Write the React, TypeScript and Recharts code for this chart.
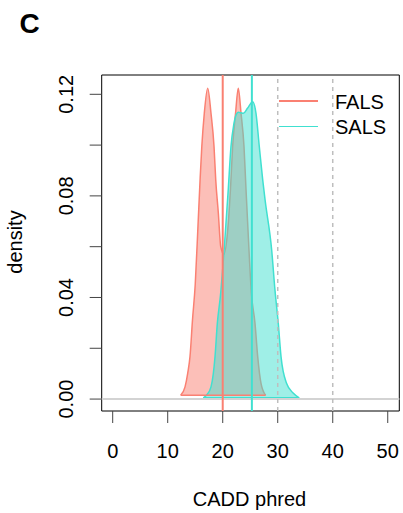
import {
  ComposedChart,
  Area,
  XAxis,
  YAxis,
  ReferenceLine,
  ReferenceArea,
  Label,
} from 'recharts';

// density estimates (CADD phred vs density)
const falsX = [
  12.36, 13.15, 13.64, 14.05, 14.5, 15.0, 15.5, 15.9, 16.2, 16.65, 17.27, 17.87, 18.42,
  18.73, 19.2, 19.64, 20.2, 20.8, 21.4, 21.8, 22.33, 22.83, 23.33, 23.87, 24.24, 24.7,
  25.2, 25.87, 26.36, 26.96, 27.8,
];
const falsDensity = [
  0.0015, 0.0048, 0.0102, 0.0167, 0.031, 0.045, 0.068, 0.087, 0.0995, 0.1125, 0.1224,
  0.1125, 0.0994, 0.0863, 0.0733, 0.06, 0.057, 0.064, 0.0823, 0.0994, 0.1125, 0.1224,
  0.1125, 0.0994, 0.0823, 0.062, 0.042, 0.0298, 0.0167, 0.0062, 0.0015,
];

const salsX = [
  16.47, 17.09, 17.87, 18.29, 18.6, 19.02, 19.6, 20.3, 21.0, 21.5, 22.0, 22.5, 22.84,
  23.3, 23.75, 24.5, 25.45, 26.05, 26.65, 27.27, 27.7, 28.9, 29.5, 30.1, 30.6, 31.6,
  32.8, 33.9,
];
const salsDensity = [
  0.0005, 0.0016, 0.0048, 0.01, 0.0167, 0.0298, 0.041, 0.06, 0.0823, 0.0994, 0.108,
  0.1122, 0.1129, 0.1127, 0.1125, 0.1145, 0.1171, 0.1125, 0.0994, 0.0863, 0.0784,
  0.0587, 0.0429, 0.0298, 0.0167, 0.0062, 0.0024, 0.0005,
];

const groups = ['FALS', 'SALS'];
const groupColors = ['#FA8072', '#40E0D0'];
const medians = [20, 25.3];
const cutoffs = [30, 40];

const xTicks = [0, 10, 20, 30, 40, 50];
const yTicks = [0, 0.02, 0.04, 0.06, 0.08, 0.1, 0.12];
const yTickLabels = ['0.00', '', '0.04', '', '0.08', '', '0.12'];

const xDomain: [number, number] = [-2.0, 52.1];
const yDomain: [number, number] = [-0.0047, 0.1276];

const FONT = '"Liberation Sans", Arial, Helvetica, sans-serif';

// merged table, each series skips the x values of the other one
const allX = Array.from(new Set([...falsX, ...salsX])).sort((a, b) => a - b);
const tableData = allX.map((x) => {
  const fi = falsX.indexOf(x);
  const si = salsX.indexOf(x);
  return {
    x,
    fals: fi >= 0 ? falsDensity[fi] : null,
    sals: si >= 0 ? salsDensity[si] : null,
  };
});

const XTick = (props: any) => {
  const { x, payload } = props;
  return (
    <text x={x} y={457.5} textAnchor="middle" fill="#000" fontSize={20} fontFamily={FONT}>
      {payload.value}
    </text>
  );
};

const YTick = (props: any) => {
  const { y, index } = props;
  const label = yTickLabels[index];
  if (!label) return <g />;
  return (
    <text
      x={73}
      y={y}
      transform={`rotate(-90, 73, ${y})`}
      textAnchor="middle"
      fill="#000"
      fontSize={20}
      fontFamily={FONT}
    >
      {label}
    </text>
  );
};

export default function App() {
  return (
    <div style={{ position: 'absolute', left: 0, top: 0, width: 403, height: 513, background: '#fff' }}>
      <div
        style={{
          position: 'absolute',
          left: 19.5,
          top: 9.6,
          fontFamily: FONT,
          fontWeight: 'bold',
          fontSize: 28,
          lineHeight: '28px',
        }}
      >
        C
      </div>
      <ComposedChart
        width={403}
        height={513}
        data={tableData}
        margin={{ top: 75, right: 3.7, bottom: 0, left: 0 }}
        style={{ fontFamily: FONT }}
      >
        <XAxis
          dataKey="x"
          type="number"
          domain={xDomain}
          allowDataOverflow
          ticks={xTicks}
          height={102}
          axisLine={false}
          tickSize={12}
          tickLine={{ stroke: '#444', strokeWidth: 1 }}
          tick={<XTick />}
          interval={0}
        >
          <Label
            content={() => (
              <text x={249.5} y={506} textAnchor="middle" fill="#000" fontSize={20} fontFamily={FONT}>
                CADD phred
              </text>
            )}
          />
        </XAxis>
        <YAxis
          type="number"
          domain={yDomain}
          allowDataOverflow
          ticks={yTicks}
          width={101.7}
          axisLine={false}
          tickSize={12}
          tickLine={{ stroke: '#444', strokeWidth: 1 }}
          tick={<YTick />}
          interval={0}
        >
          <Label
            content={() => (
              <text
                x={21.5}
                y={242}
                transform="rotate(-90, 21.5, 242)"
                textAnchor="middle"
                fill="#000"
                fontSize={20}
                fontFamily={FONT}
              >
                density
              </text>
            )}
          />
        </YAxis>

        <Area
          dataKey="fals"
          name={groups[0]}
          type="monotone"
          connectNulls
          baseValue={falsDensity[0]}
          stroke={groupColors[0]}
          strokeWidth={1.5}
          fill={groupColors[0]}
          fillOpacity={0.5}
          dot={false}
          activeDot={false}
          isAnimationActive={false}
        />
        <ReferenceLine
          segment={[
            { x: falsX[0], y: falsDensity[0] },
            { x: falsX[falsX.length - 1], y: falsDensity[falsDensity.length - 1] },
          ]}
          stroke={groupColors[0]}
          strokeWidth={1.5}
        />
        <Area
          dataKey="sals"
          name={groups[1]}
          type="monotone"
          connectNulls
          baseValue={salsDensity[0]}
          stroke={groupColors[1]}
          strokeWidth={1.5}
          fill={groupColors[1]}
          fillOpacity={0.5}
          dot={false}
          activeDot={false}
          isAnimationActive={false}
        />
        <ReferenceLine
          segment={[
            { x: salsX[0], y: salsDensity[0] },
            { x: salsX[salsX.length - 1], y: salsDensity[salsDensity.length - 1] },
          ]}
          stroke={groupColors[1]}
          strokeWidth={1.5}
        />

        <ReferenceLine y={0} stroke="#D3D3D3" strokeWidth={2} />
        {cutoffs.map((c) => (
          <ReferenceLine key={c} x={c} stroke="#BEBEBE" strokeWidth={1.5} strokeDasharray="4 4" />
        ))}
        {medians.map((m, i) => (
          <ReferenceLine key={m} x={m} stroke={groupColors[i]} strokeWidth={2} />
        ))}

        <ReferenceArea
          x1={xDomain[0]}
          x2={xDomain[1]}
          y1={yDomain[0]}
          y2={yDomain[1]}
          fill="none"
          fillOpacity={0}
          stroke="#000"
          strokeWidth={1}
        />
      </ComposedChart>

      {groups.map((g, i) => (
        <div key={g}>
          <div
            style={{
              position: 'absolute',
              left: 279,
              top: 100 + i * 25.7,
              width: 39,
              height: 1.5,
              background: groupColors[i],
            }}
          />
          <div
            style={{
              position: 'absolute',
              left: 335,
              top: 92 + i * 25,
              fontFamily: FONT,
              fontSize: 20,
              lineHeight: '20px',
              color: '#000',
            }}
          >
            {g}
          </div>
        </div>
      ))}
    </div>
  );
}
